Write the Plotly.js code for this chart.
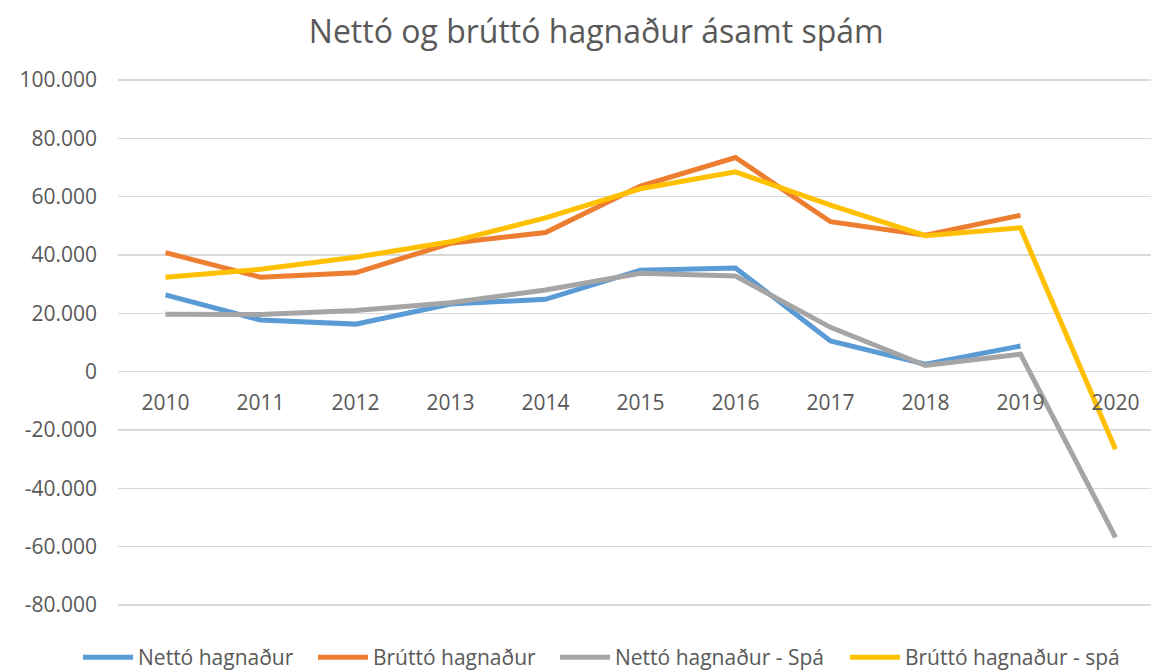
<!DOCTYPE html>
<html>
<head>
<meta charset="utf-8">
<script src="https://cdn.plot.ly/plotly-3.0.1.min.js"></script>
<style>
html, body { margin: 0; padding: 0; background: #fff; overflow: hidden; }
#chart { width: 1151px; height: 671px; }
</style>
</head>
<body>
<div id="chart"></div>
<script>
const years = ['2010','2011','2012','2013','2014','2015','2016','2017','2018','2019','2020'];
const nettoHagnadur = [26300, 17700, 16300, 23200, 24800, 34800, 35500, 10500, 2600, 8800, null];
const bruttoHagnadur = [40800, 32400, 33900, 44000, 47700, 63600, 73400, 51400, 46800, 53600, null];
const nettoSpa = [19700, 19600, 21000, 23600, 28000, 33700, 32800, 15200, 2100, 6000, -56800];
const bruttoSpa = [32400, 35100, 39200, 44500, 52700, 62700, 68500, 57100, 46600, 49300, -26600];
const seriesNames = ['Nettó hagnaður', 'Brúttó hagnaður', 'Nettó hagnaður - Spá', 'Brúttó hagnaður - spá'];
const yTickVals = [-80000, -60000, -40000, -20000, 0, 20000, 40000, 60000, 80000, 100000];
const yTickText = ['-80.000', '-60.000', '-40.000', '-20.000', '0', '20.000', '40.000', '60.000', '80.000', '100.000'];

const colors = ['#5B9BD5', '#ED7D31', '#A5A5A5', '#FFC000'];
const legendIds = ['legend', 'legend2', 'legend3', 'legend4'];
const legendX = [0.0678, 0.2719, 0.4822, 0.7341];
const allSeries = [nettoHagnadur, bruttoHagnadur, nettoSpa, bruttoSpa];

const traces = allSeries.map((vals, i) => ({
  type: 'scatter',
  mode: 'lines',
  x: years.map((y, k) => k),
  y: vals,
  name: seriesNames[i],
  line: { color: colors[i], width: 5 },
  connectgaps: false,
  legend: legendIds[i],
  hoverinfo: 'skip'
}));

const yMin = -81000, yMax = 101000;
const zeroFrac = (0 - yMin) / (yMax - yMin);

const layout = {
  width: 1151,
  height: 671,
  paper_bgcolor: '#ffffff',
  plot_bgcolor: '#ffffff',
  margin: { l: 118, r: 0, t: 77, b: 63 },
  font: { family: 'Open Sans, sans-serif', color: '#595959' },
  title: {
    text: 'Nettó og brúttó hagnaður ásamt spám',
    font: { family: 'Open Sans, sans-serif', size: 32, color: '#595959' },
    x: 0.518, xanchor: 'center', xref: 'container',
    y: 0.953, yanchor: 'middle', yref: 'container'
  },
  xaxis: {
    type: 'linear',
    range: [-0.5, 10.374],
    tickvals: years.map((y, k) => k),
    ticktext: years,
    showgrid: false,
    zeroline: false,
    showline: false,
    ticks: '',
    anchor: 'free',
    position: zeroFrac,
    ticklabelstandoff: 16,
    tickfont: { size: 21, color: '#595959', family: 'Open Sans, sans-serif' },
    fixedrange: true
  },
  yaxis: {
    range: [yMin, yMax],
    tickvals: yTickVals,
    ticktext: yTickText,
    showgrid: true,
    gridcolor: '#d9d9d9',
    gridwidth: 1.3,
    zeroline: false,
    showline: false,
    ticks: '',
    ticklabelstandoff: 20,
    tickfont: { size: 21, color: '#595959', family: 'Open Sans, sans-serif' },
    fixedrange: true
  },
  showlegend: true
};

legendIds.forEach((id, i) => {
  layout[id] = {
    orientation: 'h',
    xref: 'container', yref: 'container',
    x: legendX[i], xanchor: 'left',
    y: 0.02, yanchor: 'middle',
    font: { size: 21, color: '#595959', family: 'Open Sans, sans-serif' },
    itemwidth: 50,
    bgcolor: 'rgba(0,0,0,0)'
  };
});

Plotly.newPlot('chart', traces, layout, { displayModeBar: false, staticPlot: true });
</script>
</body>
</html>
